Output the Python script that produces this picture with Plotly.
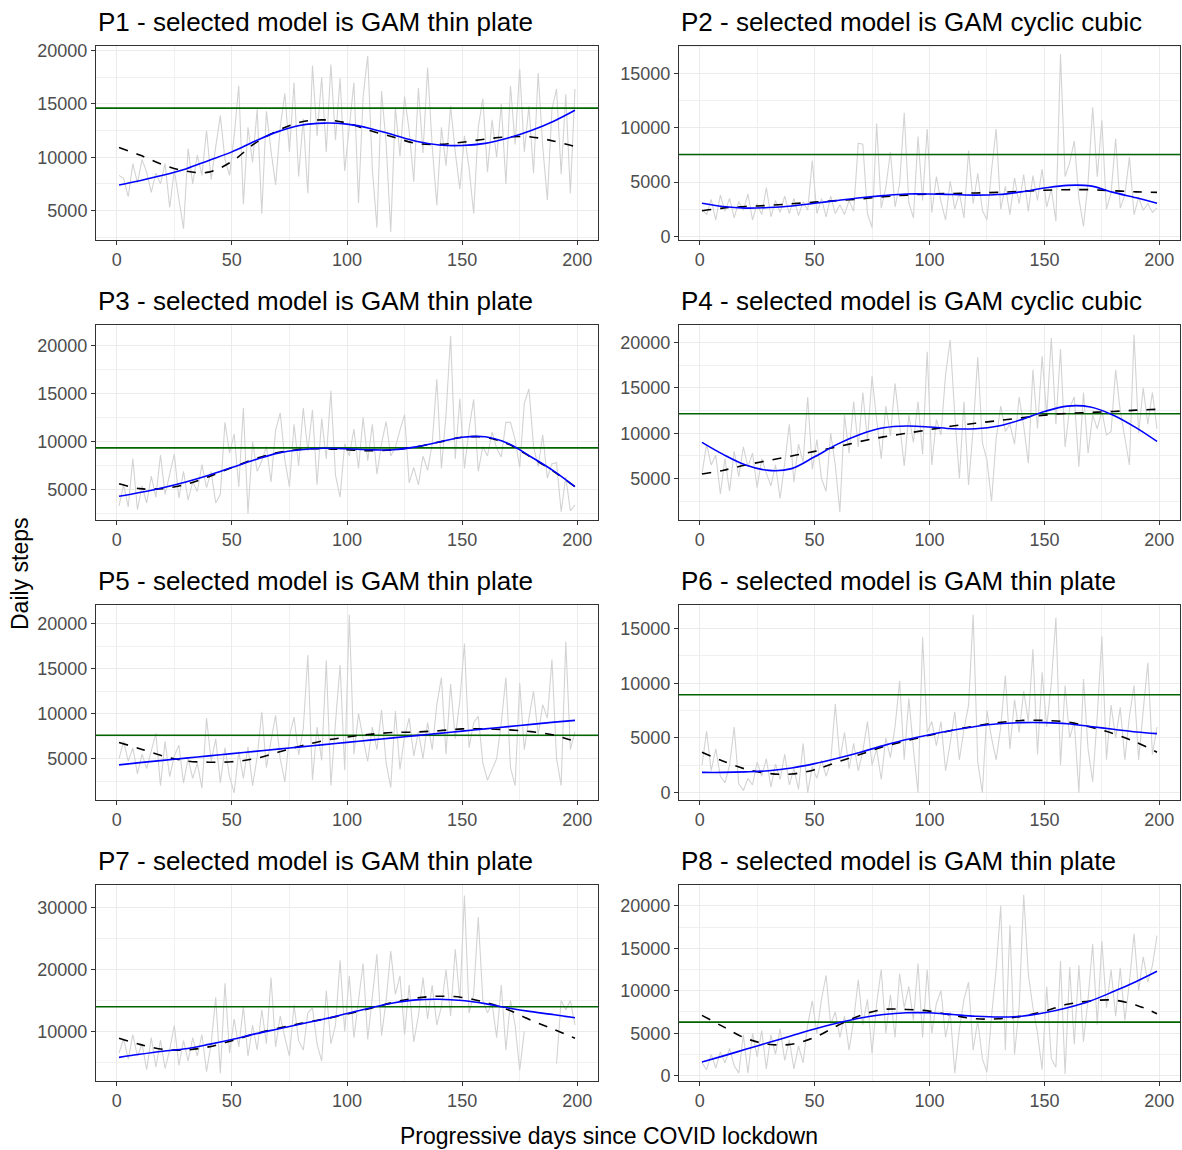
import plotly.graph_objects as go

W, H = 1182, 1150

TITLES = [
    "P1 - selected model is GAM thin plate",
    "P2 - selected model is GAM cyclic cubic",
    "P3 - selected model is GAM thin plate",
    "P4 - selected model is GAM cyclic cubic",
    "P5 - selected model is GAM thin plate",
    "P6 - selected model is GAM thin plate",
    "P7 - selected model is GAM thin plate",
    "P8 - selected model is GAM thin plate",
]

DAYS = list(range(1, 200, 2))
SMOOTH_DAYS = [1, 10, 20, 30, 40, 50, 60, 70, 80, 90, 100, 110, 120, 130, 140, 150, 160, 170, 180, 190, 199]

# daily steps (grey), read approximately every 2nd day
P1_STEPS = [8300, 8000, 6300, 9400, 7600, 9800, 8600, 6700, 8500, 7500, 9400, 5300, 8800, 6000, 3300, 10800, 7500, 10200, 8300, 12500,
            7900, 11000, 13900, 9800, 8300, 12000, 16700, 5600, 12800, 9500, 14500, 4700, 14300, 10600, 7400, 12800, 16000, 10500, 17000, 8200,
            13600, 6600, 18600, 12000, 17500, 10500, 18700, 11600, 17400, 8700, 13200, 17000, 5700, 15700, 19500, 8900, 3400, 16200, 11300, 3000,
            14700, 10100, 15700, 12500, 7700, 16500, 10400, 18400, 11000, 5500, 12800, 9200, 14800, 10500, 7000, 12000, 9000, 4700, 12800, 15500,
            8600, 13500, 10000, 15000, 7500, 16700, 11200, 18300, 10500, 14800, 8500, 17900, 11000, 6000, 14500, 16400, 8400, 15900, 6600, 16400]
P2_STEPS = [2500, 2000, 3400, 1500, 3800, 2300, 3500, 1700, 3200, 2400, 3900, 1500, 3000, 2000, 4500, 1800, 3300, 2200, 3700, 2100,
            3500, 1900, 3200, 2400, 7000, 2100, 3500, 1800, 3700, 2100, 2900, 2000, 3300, 2300, 8600, 8500, 2100, 800, 10400, 2600,
            4500, 7800, 2700, 4800, 11400, 3100, 1700, 9200, 3300, 9900, 2200, 5500, 3200, 1500, 5100, 2500, 4000, 1700, 7900, 3000,
            5800, 2400, 1500, 6100, 9900, 2500, 4600, 2000, 5400, 3000, 5700, 2300, 5600, 3300, 6200, 2700, 4400, 1400, 16800, 5500,
            6800, 8800, 3500, 900, 5000, 11900, 5500, 10700, 2500, 4000, 9000, 2600, 3800, 7300, 2000, 3600, 2400, 3000, 2200, 2600]
P3_STEPS = [3300, 5500, 3200, 8200, 2900, 5400, 3600, 6400, 4200, 8600, 4500, 6500, 8700, 4100, 6900, 3900, 5800, 4800, 7600, 5200,
            6900, 3600, 4500, 12000, 8800, 10800, 5300, 13500, 2500, 10000, 6900, 8000, 9500, 5800, 11200, 13000, 8100, 5300, 11800, 7500,
            13500, 9000, 13300, 5500, 12400, 8200, 15300, 6500, 4200, 9800, 8500, 11300, 7200, 12500, 8000, 11800, 6600, 9800, 12100, 8500,
            9400, 11200, 12800, 5700, 7300, 5500, 8500, 7000, 9800, 16500, 7200, 12800, 21000, 8200, 14500, 7200, 11300, 14400, 6900, 9500,
            8500, 11000, 9300, 8400, 12000, 12000, 10200, 7300, 14000, 15500, 9500, 7400, 10700, 6200, 7700, 7800, 2700, 6300, 2800, 3400]
P4_STEPS = [5500, 8800, 6500, 7600, 3300, 7200, 3600, 8000, 5200, 8500, 6300, 7800, 4000, 7200, 5600, 4200, 6500, 2800, 6700, 11000,
            4600, 8800, 6800, 14000, 6000, 9300, 5000, 3600, 10000, 6500, 1300, 12000, 7800, 13500, 8500, 14500, 9200, 16300, 11500, 7200,
            13000, 9700, 15500, 10800, 6400, 12000, 9000, 13500, 7700, 19000, 6500, 11500, 9800, 16500, 20300, 12000, 5000, 13500, 4300, 10500,
            18400, 9000, 7000, 2500, 9400, 13000, 10200, 11000, 8800, 14000, 10800, 6700, 17000, 10500, 18500, 12000, 20500, 11000, 19300, 8500,
            12800, 14000, 6300, 14500, 7800, 12000, 10500, 12500, 9800, 10200, 17000, 12500, 9500, 6500, 20900, 10000, 15000, 11000, 14500, 10500]
P5_STEPS = [5000, 6900, 4700, 6200, 3300, 5500, 3900, 6000, 7800, 2000, 6900, 3000, 5300, 6500, 2300, 5000, 2800, 4500, 1700, 9500,
            4700, 7200, 2300, 6200, 3000, 1200, 5800, 2800, 6300, 2000, 5200, 10200, 4000, 7000, 9800, 5000, 2400, 7500, 9600, 5400,
            8300, 16500, 2600, 8500, 4800, 15900, 2000, 9000, 15400, 3700, 21000, 5500, 10000, 7200, 4700, 8500, 6000, 10400, 4500, 1800,
            10300, 3800, 7500, 9500, 5300, 8000, 5000, 9000, 6000, 11000, 14000, 5500, 13300, 7200, 11500, 17800, 6200, 9000, 9700, 4500,
            2600, 3800, 5000, 9000, 14000, 4000, 2000, 13400, 6000, 9500, 12500, 7600, 11000, 9500, 16000, 5000, 2000, 18000, 6000, 8000]
P6_STEPS = [2500, 5600, 2000, 4000, 1500, 900, 2500, 6000, 800, 200, 1300, 700, 2800, 1500, 3100, 500, 2600, 1200, 3500, 700,
            2200, 300, 4500, 0, 2400, 1300, 3000, 1500, 2800, 8100, 3000, 5500, 2200, 4500, 2000, 3800, 6500, 2500, 4000, 1200,
            5000, 3200, 6000, 10200, 3000, 8600, 4000, 0, 14200, 5500, 6500, 4300, 6500, 2000, 4500, 7400, 3000, 5800, 8000, 16300,
            2800, 0, 7500, 5000, 3000, 6000, 10700, 4000, 8500, 5500, 9300, 6500, 13100, 3500, 11000, 6000, 10000, 16000, 2500, 9800,
            5000, 6500, 0, 10400, 4000, 1000, 7000, 14300, 3000, 8000, 5000, 7800, 3000, 7000, 9800, 3000, 7500, 11900, 3500, 6000]
P7_STEPS = [6500, 8800, 5500, 9500, 6000, 8000, 3800, 9000, 4200, 8600, 4000, 7000, 11000, 4500, 8500, 5200, 9000, 6000, 9500, 3500,
            8000, 15500, 3200, 17800, 6500, 12000, 7500, 14000, 6000, 11000, 7000, 13500, 8000, 18700, 7500, 12500, 9000, 6000, 14300, 8500,
            7000, 13000, 13800, 8000, 5200, 16600, 8000, 11000, 21500, 10000, 19000, 9000, 15000, 21000, 8700, 15500, 22500, 9300, 15000, 23000,
            16000, 19000, 9500, 17500, 8300, 12500, 18700, 12000, 17500, 11000, 14000, 20000, 12500, 23300, 15000, 32000, 13000, 16000, 28500, 15000,
            13000, 14500, 9000, 17500, 7000, 15000, 11000, 3700, 10000, None, None, None, None, None, None, 4800, 15000, 13500, 15000, 11000]
P8_STEPS = [1500, 700, 2500, 900, 2800, 1500, 3200, 1200, 300, 4800, 300, 5000, 2200, 5300, 800, 4800, 2500, 5500, 1800, 4200,
            800, 3500, 1500, 6000, 8800, 5000, 9000, 11800, 6000, 7500, 4500, 7000, 3000, 6500, 11300, 6000, 9000, 2600, 8500, 12500,
            5000, 9500, 4500, 12000, 8000, 10500, 6500, 13200, 4500, 12500, 5000, 8500, 10000, 4500, 7500, 300, 5500, 9000, 11000, 3000,
            6500, 2000, 400, 7000, 12500, 20000, 3000, 17700, 2500, 8000, 21300, 12000, 8000, 5000, 700, 10500, 2000, 1000, 13500, 200,
            12800, 3700, 13000, 4000, 9000, 15500, 6000, 15900, 8000, 12500, 7000, 12700, 6500, 11000, 16700, 10000, 14000, 11000, 13000, 16500]

# selected GAM fit (blue)
P1_GAM = [7400, 7800, 8300, 8900, 9700, 10500, 11500, 12400, 13000, 13200, 13100, 12700, 12100, 11500, 11150, 11100, 11300, 11800, 12500, 13400, 14400]
P2_GAM = [3050, 2750, 2600, 2650, 2800, 3050, 3300, 3550, 3750, 3900, 3900, 3850, 3800, 3850, 4100, 4450, 4700, 4650, 4050, 3550, 3050]
P3_GAM = [4300, 4700, 5200, 5800, 6500, 7300, 8100, 8800, 9150, 9300, 9250, 9150, 9150, 9450, 9950, 10450, 10500, 9800, 8400, 6900, 5300]
P4_GAM = [9000, 7700, 6500, 5900, 6100, 7400, 8800, 9900, 10600, 10800, 10700, 10500, 10500, 10800, 11500, 12400, 13000, 12900, 12000, 10600, 9100]
P5_GAM = [4300, 4550, 4800, 5050, 5300, 5550, 5800, 6050, 6300, 6550, 6800, 7050, 7300, 7550, 7800, 8050, 8300, 8550, 8800, 9050, 9250]
P6_GAM = [1850, 1850, 1900, 2000, 2250, 2650, 3150, 3700, 4300, 4850, 5300, 5700, 6050, 6300, 6400, 6400, 6300, 6050, 5800, 5550, 5400]
P7_GAM = [5800, 6300, 6800, 7200, 7900, 8700, 9600, 10400, 11200, 12000, 12900, 13800, 14600, 15100, 15200, 15000, 14500, 13800, 13200, 12700, 12200]
P8_GAM = [1600, 2300, 3100, 3900, 4700, 5500, 6200, 6800, 7200, 7400, 7400, 7200, 7000, 6900, 7000, 7400, 8000, 8800, 9900, 11100, 12300]

# alternative fit (dashed black)
P1_ALT = [10900, 10200, 9300, 8700, 8600, 9600, 11300, 12500, 13300, 13500, 13200, 12500, 11900, 11300, 11200, 11400, 11700, 11900, 11900, 11500, 11000]
P2_ALT = [2350, 2600, 2750, 2850, 3000, 3150, 3300, 3450, 3650, 3800, 3900, 3950, 4000, 4050, 4150, 4250, 4300, 4300, 4200, 4100, 4050]
P3_ALT = [5600, 5100, 5100, 5550, 6350, 7300, 8200, 8850, 9200, 9250, 9150, 9050, 9150, 9450, 9950, 10450, 10450, 9750, 8350, 6850, 5300]
P4_ALT = [5500, 5900, 6500, 7000, 7500, 8000, 8500, 9100, 9600, 10000, 10400, 10800, 11100, 11400, 11700, 12000, 12200, 12300, 12400, 12550, 12650]
P5_ALT = [6800, 6100, 5300, 4750, 4600, 4650, 5000, 5700, 6400, 7000, 7400, 7700, 7900, 7950, 8100, 8300, 8300, 8200, 8000, 7600, 6900]
P6_ALT = [3700, 2900, 2150, 1750, 1700, 2100, 2800, 3500, 4200, 4750, 5250, 5700, 6100, 6400, 6600, 6600, 6450, 6000, 5400, 4600, 3700]
P7_ALT = [8900, 7900, 7100, 7000, 7500, 8500, 9600, 10500, 11300, 12000, 12800, 13700, 14700, 15400, 15700, 15500, 14700, 13500, 11800, 10300, 8900]
P8_ALT = [7100, 5800, 4400, 3700, 3700, 4500, 5900, 7100, 7800, 7800, 7600, 7100, 6700, 6700, 7000, 7600, 8400, 8800, 8900, 8300, 7300]

# reference level (green)
LEVELS = [14600, 7550, 9350, 12150, 7600, 8950, 14000, 6300]

Y_RANGES = [[2280, 20470], [-300, 17600], [1875, 22190], [475, 21990],
            [440, 22110], [-640, 17190], [2030, 33740], [-590, 22490]]
Y_DTICK = [5000, 5000, 5000, 5000, 5000, 5000, 10000, 5000]

STEPS = [P1_STEPS, P2_STEPS, P3_STEPS, P4_STEPS, P5_STEPS, P6_STEPS, P7_STEPS, P8_STEPS]
GAMS = [P1_GAM, P2_GAM, P3_GAM, P4_GAM, P5_GAM, P6_GAM, P7_GAM, P8_GAM]
ALTS = [P1_ALT, P2_ALT, P3_ALT, P4_ALT, P5_ALT, P6_ALT, P7_ALT, P8_ALT]

# layout in pixels
COLS = [(96, 598), (679, 1180)]
ROWS = [(41, 237), (323, 520), (606, 803), (889, 1087)]

FONT = "Liberation Sans, Arial, sans-serif"
fig = go.Figure()
layout = dict(width=W, height=H, margin=dict(l=0, r=0, t=0, b=0),
              paper_bgcolor="white", plot_bgcolor="white", showlegend=False,
              font=dict(family=FONT, color="#4D4D4D"))
annotations = []

for i in range(8):
    r, c = divmod(i, 2)
    x0, x1 = COLS[c]
    y0, y1 = ROWS[r]
    xa = "x" if i == 0 else f"x{i+1}"
    ya = "y" if i == 0 else f"y{i+1}"
    xkey = "xaxis" if i == 0 else f"xaxis{i+1}"
    ykey = "yaxis" if i == 0 else f"yaxis{i+1}"
    layout[xkey] = dict(domain=[x0 / W, x1 / W], anchor=ya, range=[-9, 209],
                        tickvals=[0, 50, 100, 150, 200], showgrid=True, gridcolor="#EBEBEB", gridwidth=1.2,
                        minor=dict(tickvals=[25, 75, 125, 175], showgrid=True, gridcolor="#F0F0F0", gridwidth=0.7, ticks=""),
                        zeroline=False, showline=True, linecolor="#333333", linewidth=1, mirror=True,
                        ticks="outside", ticklen=4, tickcolor="#333333", tickwidth=1,
                        tickfont=dict(size=18, color="#4D4D4D", family=FONT))
    dt = Y_DTICK[i]
    layout[ykey] = dict(domain=[1 - y1 / H, 1 - y0 / H], anchor=xa, range=Y_RANGES[i],
                        tick0=0, dtick=dt, showgrid=True, gridcolor="#EBEBEB", gridwidth=1.2,
                        minor=dict(tick0=dt / 2, dtick=dt, showgrid=True, gridcolor="#F0F0F0", gridwidth=0.7, ticks=""),
                        zeroline=False, showline=True, linecolor="#333333", linewidth=1, mirror=True,
                        ticks="outside", ticklen=4, tickcolor="#333333", tickwidth=1,
                        tickformat="d", tickfont=dict(size=18, color="#4D4D4D", family=FONT))
    fig.add_trace(go.Scatter(x=DAYS, y=STEPS[i], mode="lines", line=dict(color="#D3D3D3", width=1.1),
                             connectgaps=False, xaxis=xa, yaxis=ya, hoverinfo="skip"))
    fig.add_trace(go.Scatter(x=[-9, 209], y=[LEVELS[i], LEVELS[i]], mode="lines",
                             line=dict(color="#006400", width=1.6), xaxis=xa, yaxis=ya))
    fig.add_trace(go.Scatter(x=SMOOTH_DAYS, y=ALTS[i], mode="lines", line=dict(color="black", width=1.6, dash="dash", shape="spline"),
                             xaxis=xa, yaxis=ya))
    fig.add_trace(go.Scatter(x=SMOOTH_DAYS, y=GAMS[i], mode="lines", line=dict(color="#0000FF", width=1.6, shape="spline"),
                             xaxis=xa, yaxis=ya))
    annotations.append(dict(text=TITLES[i], x=x0 / W, y=1 - (y0 - 24) / H, xref="paper", yref="paper",
                            xanchor="left", yanchor="middle", showarrow=False,
                            font=dict(size=26, color="black", family=FONT)))

annotations.append(dict(text="Daily steps", x=20 / W, y=1 - 575 / H, xref="paper", yref="paper",
                        textangle=-90, showarrow=False, xanchor="center", yanchor="middle",
                        font=dict(size=23, color="black", family=FONT)))
annotations.append(dict(text="Progressive days since COVID lockdown", x=609 / W, y=1 - 1143 / H, xref="paper", yref="paper",
                        showarrow=False, xanchor="center", yanchor="middle",
                        font=dict(size=23, color="black", family=FONT)))
layout["annotations"] = annotations
fig.update_layout(**layout)
PAGE_JS = ("var s=document.documentElement.style;s.margin='0';s.padding='0';s.height='1150px';s.overflow='hidden';"
           "var b=document.body.style;b.margin='0';b.padding='0';b.height='1150px';b.overflow='hidden';")
fig.write_html("out.html", config={"displayModeBar": False}, post_script=PAGE_JS)
